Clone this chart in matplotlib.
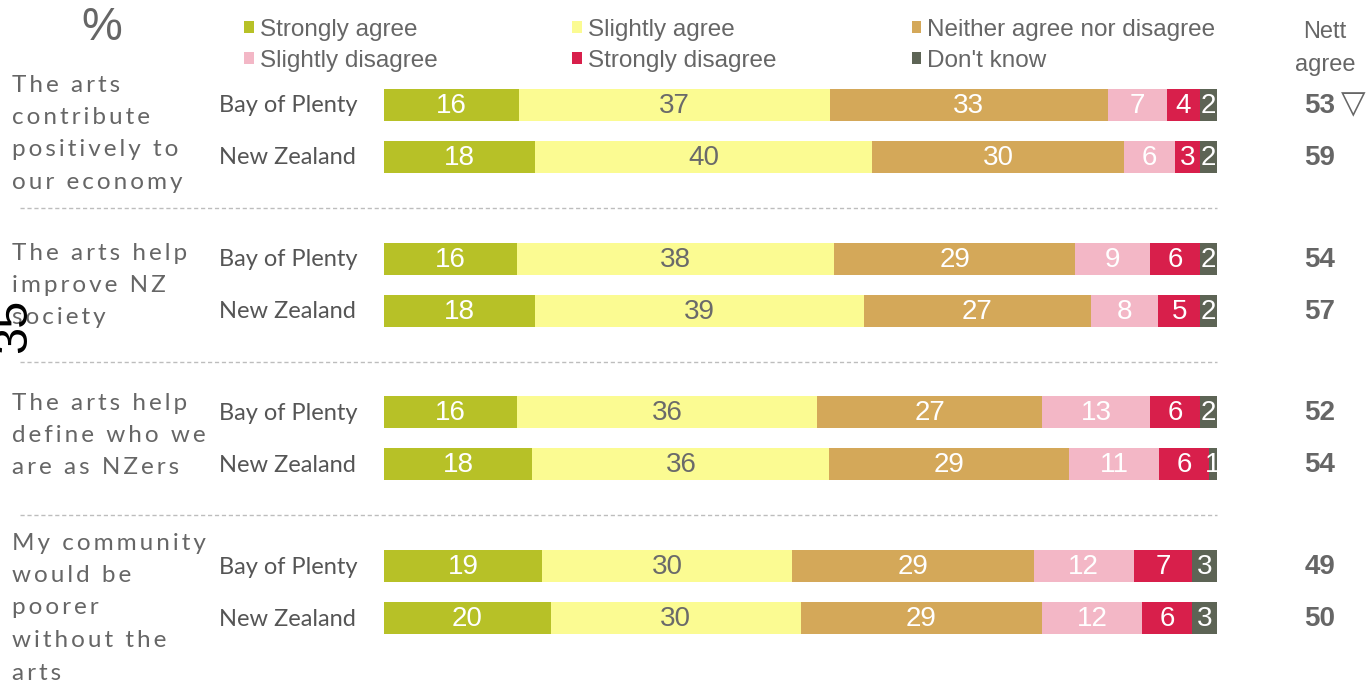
import matplotlib.pyplot as plt
import numpy as np

# categories and values
questions = [
    "The arts\ncontribute\npositively to\nour economy",
    "The arts help\nimprove NZ\nsociety",
    "The arts help\ndefine who we\nare as NZers",
    "My community\nwould be\npoorer\nwithout the\narts",
]
regions = ["Bay of Plenty", "New Zealand"]
responses = ["Strongly agree", "Slightly agree", "Neither agree nor disagree",
             "Slightly disagree", "Strongly disagree", "Don't know"]

# one row per question/region pair: strongly agree ... don't know
values = [
    [16, 37, 33, 7, 4, 2],
    [18, 40, 30, 6, 3, 2],
    [16, 38, 29, 9, 6, 2],
    [18, 39, 27, 8, 5, 2],
    [16, 36, 27, 13, 6, 2],
    [18, 36, 29, 11, 6, 1],
    [19, 30, 29, 12, 7, 3],
    [20, 30, 29, 12, 6, 3],
]
nett_agree = [53, 59, 54, 57, 52, 54, 49, 50]
nett_flag = ["\u25BD", "", "", "", "", "", "", ""]

colors = ["#b7c127", "#fbfb92", "#d4a859", "#f3b7c6", "#d81f4b", "#5d6455"]
num_colors = ["white", "#6a6a6a", "white", "white", "white", "white"]

# ---- layout (pixels) ----
W, H = 1368, 686
BAR_X0, BAR_X1 = 384, 1217
scale = (BAR_X1 - BAR_X0) / 100.0

def px(x):
    return (x - BAR_X0) / scale

fig = plt.figure(figsize=(W / 100, H / 100), dpi=100)
ax = fig.add_axes([0, 0, 1, 1])
ax.set_xlim(px(0), px(W))
ax.set_ylim(H, 0)
ax.axis("off")

group_y = [105, 259, 412, 566]
row_gap = 52
bar_h = 32
q_top = [85, 253, 403, 543]

row_y = []
for g in group_y:
    row_y += [g, g + row_gap]

vals = np.array(values, dtype=float)
norm = vals / vals.sum(axis=1, keepdims=True) * 100
lefts = np.hstack([np.zeros((len(vals), 1)), np.cumsum(norm, axis=1)[:, :-1]])

for j, resp in enumerate(responses):
    ax.barh(row_y, norm[:, j], left=lefts[:, j], height=bar_h,
            color=colors[j], label=resp, linewidth=0)
    for i in range(len(vals)):
        ax.text(lefts[i, j] + norm[i, j] / 2, row_y[i] + 1, f"{values[i][j]:.0f}",
                ha="center", va="center", fontsize=20, color=num_colors[j],
                family="Liberation Sans")

# region labels
for i, y in enumerate(row_y):
    ax.text(px(219), y + 1, regions[i % 2], ha="left", va="center",
            fontsize=17, color="#555555", family="Lato")

# question labels (letter-spaced)
for q, top in zip(questions, q_top):
    for k, line in enumerate(q.split("\n")):
        spaced = "\u2009".join(line)
        ax.text(px(12), top + k * 32.5, spaced, ha="left", va="center",
                fontsize=17.5, color="#666666", family=["Lato", "DejaVu Sans"])

# dashed separators
for g in range(len(group_y) - 1):
    y = (group_y[g] + row_gap + group_y[g + 1]) / 2
    ax.plot([px(20), px(1217)], [y, y], color="#bdbdbd", lw=1,
            linestyle=(0, (3, 2)))

# nett agree column
ax.text(px(1325), 32, "Nett", ha="center", va="center", fontsize=17,
        color="#666666", family="Liberation Sans")
ax.text(px(1325), 65, "agree", ha="center", va="center", fontsize=17,
        color="#666666", family="Liberation Sans")
for i, y in enumerate(row_y):
    ax.text(px(1320), y + 1, str(nett_agree[i]), ha="center", va="center",
            fontsize=20, fontweight="bold", color="#666666", family="Liberation Sans")
    if nett_flag[i]:
        ax.text(px(1341), y, nett_flag[i], ha="left", va="center",
                fontsize=23, color="#666666", family="DejaVu Sans")

# percent sign and page number
ax.text(px(102), 28, "%", ha="center", va="center", fontsize=33,
        color="#666666", family="Liberation Sans")
ax.text(px(14), 326, "35", ha="center", va="center", fontsize=35,
        color="black", rotation=90, family="Liberation Sans")

# legend
handles, labels = ax.get_legend_handles_labels()
order = [0, 3, 1, 4, 2, 5]
leg = ax.legend([handles[k] for k in order], [labels[k] for k in order],
                ncol=3, loc="upper left", bbox_to_anchor=(244 / W, 1 - 19 / H),
                frameon=False, fontsize=17.5, handlelength=0.4, handleheight=0.4,
                handletextpad=0.25, columnspacing=5.55, labelspacing=0.35,
                borderaxespad=0, borderpad=0)
for t in leg.get_texts():
    t.set_color("#666666")
    t.set_family("Liberation Sans")

fig.savefig("out.png", dpi=100, facecolor="white")
